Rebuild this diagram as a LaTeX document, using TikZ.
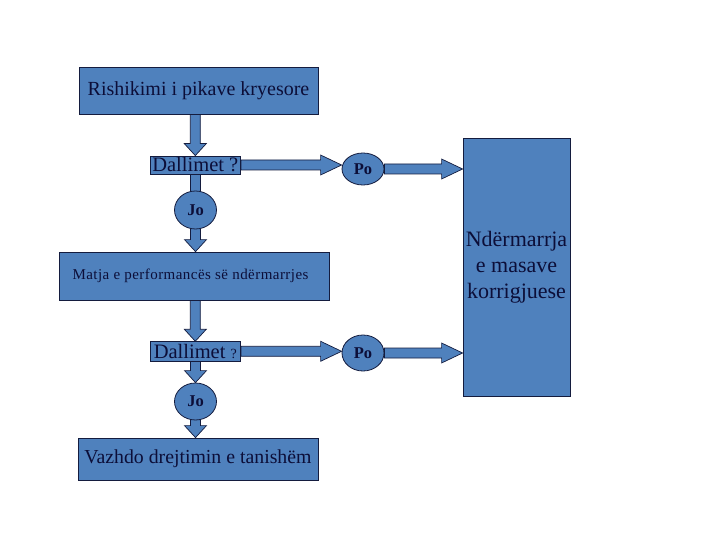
\documentclass[tikz,border=0pt]{standalone}
\usepackage{fontspec}
\setmainfont{Liberation Serif}
\usetikzlibrary{calc,shapes.geometric}
\definecolor{boxblue}{RGB}{79,129,189}
\definecolor{edgec}{RGB}{20,28,62}
\definecolor{txtc}{RGB}{12,14,56}
\pgfdeclarelayer{bg}
\pgfsetlayers{bg,main}
\tikzset{
  box/.style={draw=edgec, fill=boxblue, line width=0.8pt, inner sep=0pt, text=txtc},
  oval/.style={ellipse, draw=edgec, fill=boxblue, line width=0.8pt, inner sep=0pt, text=txtc,
    font=\fontsize{16.5}{18}\selectfont\bfseries},
  blk/.style={draw=edgec, fill=boxblue, line width=0.7pt, line join=miter},
}
% vertical block arrow: from #1 down to tip #2
\newcommand{\blkdown}[2]{%
  \filldraw[blk] let \p1=(#1), \p2=(#2) in
    (\x2-5pt,\y1) -- (\x2-5pt,\y2+12pt) -- (\x2-11pt,\y2+12pt) -- (\x2,\y2)
    -- (\x2+11pt,\y2+12pt) -- (\x2+5pt,\y2+12pt) -- (\x2+5pt,\y1) -- cycle;}
% horizontal block arrow: from #1 right to tip #2
\newcommand{\blkright}[2]{%
  \filldraw[blk] let \p1=(#1), \p2=(#2) in
    (\x1,\y2+5pt) -- (\x2-21pt,\y2+5pt) -- (\x2-21pt,\y2+10pt) -- (\x2,\y2)
    -- (\x2-21pt,\y2-10pt) -- (\x2-21pt,\y2-5pt) -- (\x1,\y2-5pt) -- cycle;}
\begin{document}
\begin{tikzpicture}[x=1pt,y=-1pt]
\useasboundingbox (0,0) rectangle (720,540);

\node[box, minimum width=239pt, minimum height=47pt, font=\fontsize{20}{24}\selectfont] (top) at (198.5,90.5) {Rishikimi i pikave kryesore};
\node[box, minimum width=90.7pt, minimum height=18pt, font=\fontsize{20.5}{24}\selectfont] (d1) at (195.3,165) {Dallimet ?};
\node[oval, minimum width=42pt, minimum height=38pt] (jo1) at (195.5,210) {Jo};
\node[box, minimum width=270pt, minimum height=48pt, font=\fontsize{15}{18}\selectfont\addfontfeature{LetterSpace=3}] (matja) at (194,276) {Matja e performancës së ndërmarrjes\hspace*{7pt}};
\node[box, minimum width=90.7pt, minimum height=19.3pt, font=\fontsize{20.5}{24}\selectfont] (d2) at (195.3,351.3) {Dallimet {\fontsize{14}{16}\selectfont ?}};
\node[oval, minimum width=42pt, minimum height=37pt] (jo2) at (195.5,401.5) {Jo};
\node[box, minimum width=240pt, minimum height=42pt, font=\fontsize{19.8}{23}\selectfont] (vaz) at (198,459) {Vazhdo drejtimin e tanishëm};
\node[oval, minimum width=42pt, minimum height=32pt] (po1) at (363,169) {Po};
\node[oval, minimum width=42pt, minimum height=36pt] (po2) at (363,353) {Po};
\node[box, minimum width=107pt, minimum height=258pt, align=center, font=\fontsize{22}{26}\selectfont] (big) at (516.5,267) {Ndërmarrja\\e masave\\korrigjuese};

\begin{pgfonlayer}{bg}
\blkdown{top.south -| d1}{d1.north}
\blkdown{d1.south}{$(jo1.north)+(0,16)$}
\blkdown{jo1.center}{matja.north -| jo1}
\blkdown{matja.south -| d2}{d2.north}
\blkdown{d2.south}{jo2.north}
\blkdown{jo2.center}{vaz.north -| jo2}
\blkright{d1.east}{po1.west |- d1.east}
\blkright{po1.east}{big.west |- po1.east}
\blkright{d2.east}{po2.west |- d2.east}
\blkright{po2.east}{big.west |- po2.east}
\end{pgfonlayer}
\end{tikzpicture}
\end{document}
